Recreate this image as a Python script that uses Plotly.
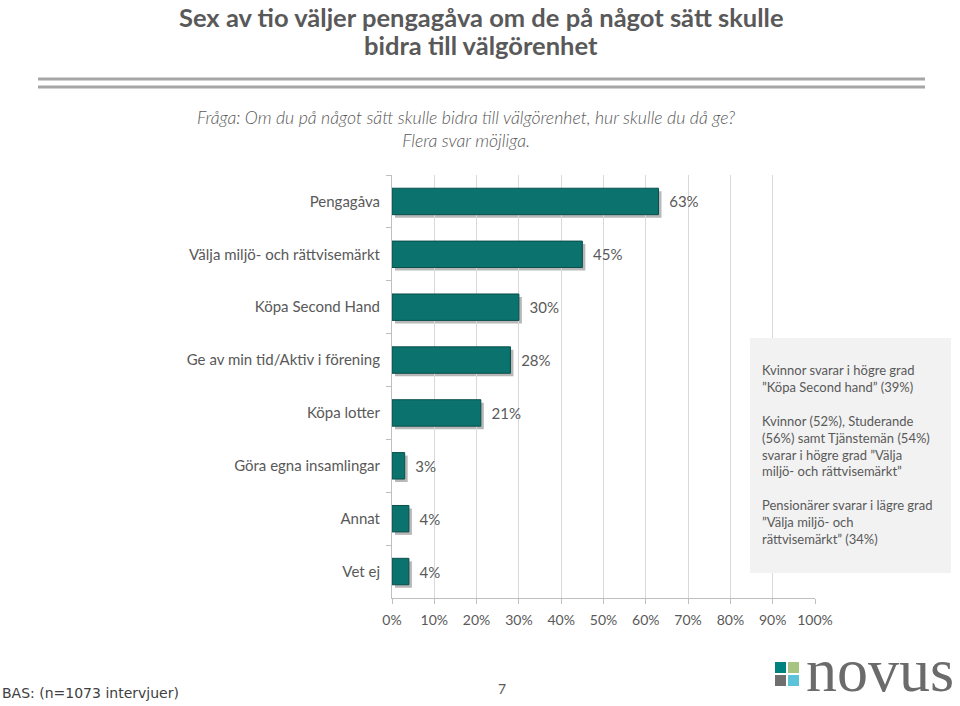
import plotly.graph_objects as go

categories = ["Pengagåva", "Välja miljö- och rättvisemärkt", "Köpa Second Hand",
              "Ge av min tid/Aktiv i förening", "Köpa lotter", "Göra egna insamlingar",
              "Annat", "Vet ej"]
values = [63, 45, 30, 28, 21, 3, 4, 4]
tick_vals = [0, 10, 20, 30, 40, 50, 60, 70, 80, 90, 100]
tick_text = [f"{t}%" for t in tick_vals]

W, H = 960, 706
def px(x):
    return x / W
def py(y):
    return 1 - y / H

GREY = "#595959"
FONT = "Lato"
BAR = "#0b726d"

fig = go.Figure()

# shadow bars (offset subplot)
fig.add_trace(go.Bar(
    x=values, y=categories, orientation="h", width=0.5,
    marker=dict(color="rgba(0,0,0,0.28)", line=dict(width=0)),
    xaxis="x", yaxis="y", hoverinfo="skip", showlegend=False,
))
# main bars
fig.add_trace(go.Bar(
    x=values, y=categories, orientation="h", width=0.5,
    marker=dict(color=BAR, line=dict(color="#0a4f4b", width=1)),
    text=[f"{v}%" for v in values], textposition="outside",
    texttemplate="  %{text}", cliponaxis=False,
    textfont=dict(family=FONT, size=15, color=GREY),
    xaxis="x2", yaxis="y2", showlegend=False,
))

x0, x1 = 392, 815
yt, yb = 175, 598
off = 3

fig.update_layout(
    template="none",
    width=W, height=H, autosize=False, margin=dict(l=0, r=0, t=0, b=0, pad=0),
    paper_bgcolor="white", plot_bgcolor="rgba(0,0,0,0)",
    xaxis=dict(domain=[px(x0 + off), px(x1 + off)], range=[0, 100], visible=False,
               anchor="y", automargin=False),
    yaxis=dict(domain=[py(yb + off), py(yt + off)], autorange="reversed", visible=False,
               categoryorder="array", categoryarray=categories, anchor="x", automargin=False),
    xaxis2=dict(domain=[px(x0), px(x1)], range=[0, 100], anchor="y2", automargin=False,
                tickvals=tick_vals, ticktext=tick_text,
                tickfont=dict(family=FONT, size=14, color=GREY),
                showgrid=True, gridcolor="#d9d9d9", gridwidth=1,
                showline=True, linecolor="#bfbfbf", linewidth=1,
                ticks="outside", ticklen=5, tickcolor="#bfbfbf",
                ticklabelstandoff=4, zeroline=False, fixedrange=True),
    yaxis2=dict(domain=[py(yb), py(yt)], anchor="x2", autorange="reversed", automargin=False,
                categoryorder="array", categoryarray=categories,
                tickfont=dict(family=FONT, size=15, color=GREY),
                showline=True, linecolor="#bfbfbf", linewidth=1,
                ticks="outside", ticklen=5, tickcolor="#bfbfbf",
                tickson="boundaries", ticklabelstandoff=8, showgrid=False, zeroline=False),
    bargap=0.5,
)

shapes = []
# double rule under title
for y in (79, 87):
    shapes.append(dict(type="line", xref="paper", yref="paper",
                       x0=px(38), x1=px(925), y0=py(y), y1=py(y),
                       line=dict(color="#a6a6a6", width=3)))
# note box
shapes.append(dict(type="rect", xref="paper", yref="paper",
                   x0=px(750), x1=px(951), y0=py(573), y1=py(338),
                   fillcolor="#f2f2f2", line=dict(width=0), layer="above"))
# logo squares
sq = [(775, 662, "#00837e"), (788, 662, "#a8c481"), (775, 675, "#6f6f6f"), (788, 675, "#5cc3d9")]
for x, y, c in sq:
    shapes.append(dict(type="rect", xref="paper", yref="paper",
                       x0=px(x), x1=px(x + 11), y0=py(y + 11), y1=py(y),
                       fillcolor=c, line=dict(width=0)))
fig.update_layout(shapes=shapes)

ann = []
ann.append(dict(text="<b>Sex av tio väljer pengagåva om de på något sätt skulle</b>",
                x=px(481), y=1, xref="paper", yref="paper", showarrow=False,
                xanchor="center", yanchor="top",
                font=dict(family=FONT, size=25.5, color=GREY), align="center"))
ann.append(dict(text="<b>bidra till välgörenhet</b>",
                x=px(481), y=py(45), xref="paper", yref="paper", showarrow=False,
                xanchor="center", yanchor="middle",
                font=dict(family=FONT, size=25.5, color=GREY), align="center"))
ann.append(dict(text="<i>Fråga: Om du på något sätt skulle bidra till välgörenhet, hur skulle du då ge?<br>Flera svar möjliga.</i>",
                x=px(466), y=py(129), xref="paper", yref="paper", showarrow=False,
                xanchor="center", yanchor="middle",
                font=dict(family=FONT, size=17.7, color=GREY, weight=300), align="center"))
note = ("Kvinnor svarar i högre grad<br>”Köpa Second hand” (39%)<br><br>"
        "Kvinnor (52%), Studerande<br>(56%) samt Tjänstemän (54%)<br>svarar i högre grad ”Välja<br>miljö- och rättvisemärkt”<br><br>"
        "Pensionärer svarar i lägre grad<br>”Välja miljö- och<br>rättvisemärkt” (34%)")
ann.append(dict(text=note, x=px(760), y=py(360), xref="paper", yref="paper",
                xanchor="left", yanchor="top", showarrow=False, align="left",
                font=dict(family=FONT, size=13, color=GREY)))
ann.append(dict(text="BAS: (n=1073 intervjuer)", x=0, y=py(693), xref="paper", yref="paper",
                xanchor="left", yanchor="middle", showarrow=False,
                font=dict(family="DejaVu Sans", size=14, color="#404040")))
ann.append(dict(text="7", x=px(502), y=py(688), xref="paper", yref="paper",
                xanchor="center", yanchor="middle",
                showarrow=False, font=dict(family=FONT, size=14, color=GREY)))
ann.append(dict(text="novus", x=px(804), y=py(670), xref="paper", yref="paper",
                xanchor="left", yanchor="middle", showarrow=False,
                font=dict(family="Liberation Serif", size=62, color="#6b6b6b")))
fig.update_layout(annotations=ann)

fig.write_html("out.html", config={"displayModeBar": False, "responsive": False},
               post_script="document.body.style.margin='0';document.body.style.overflow='hidden';")
